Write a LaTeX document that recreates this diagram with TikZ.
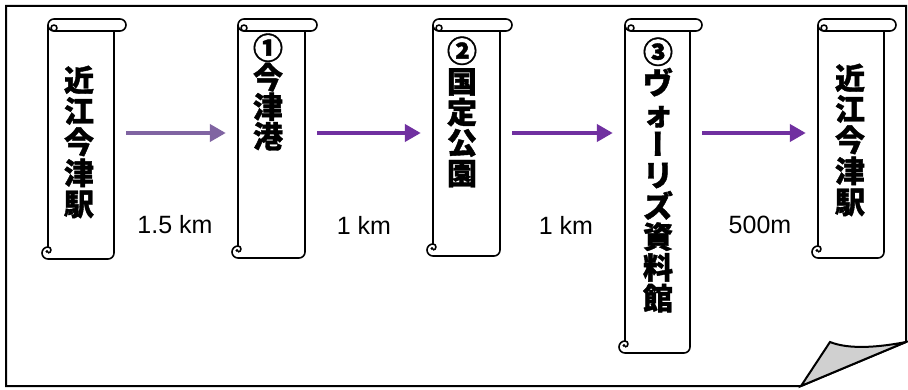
\documentclass[tikz,border=0pt]{standalone}
\usepackage{fontspec}
\setmainfont{Liberation Sans}
\newfontfamily\jp{Noto Sans CJK JP}[BoldFeatures={FakeBold=1.3}]
\newfontfamily\jpv{Noto Sans CJK JP}[RawFeature=+vert, BoldFeatures={FakeBold=1.3}]
\usetikzlibrary{arrows.meta}
\definecolor{purA}{HTML}{8064A2}
\definecolor{purB}{HTML}{7030A0}
\definecolor{foldgray}{HTML}{D0D0D0}
\newcommand{\jpfont}[1]{\jp\bfseries\fontsize{30}{#1}\selectfont}
\tikzset{
  scrollline/.style={draw=black, line width=1.6pt, line join=round},
  frameline/.style={draw=black, line width=2pt, line join=miter},
  jptext/.style={align=center, inner sep=0pt, text=black},
  arrA/.style={draw=purA, line width=4.5pt, -{Triangle[length=16pt,width=17pt]}, shorten >=12pt},
  arrB/.style={draw=purB, line width=4.5pt, -{Triangle[length=16pt,width=17pt]}, shorten >=12pt},
  dist/.style={font=\fontsize{25}{30}\selectfont, inner sep=0pt, text=black},
}
% name, L, T, R, B
\newcommand{\myscroll}[5]{%
  \fill[white] (#2,-#3-6) rectangle (#4,-#5);
  \draw[scrollline] (#2,-#3-6) -- (#2,-#5+12) arc[start angle=90,end angle=270,radius=6pt]
     -- (#4-6,-#5) arc[start angle=-90,end angle=0,radius=6pt] -- (#4,-#3-12);
  \draw[scrollline] (#2,-#5+12) arc[start angle=90,end angle=-90,radius=3pt];
  \fill[black] (#2-1,-#5+7.5) circle[radius=1.6pt];
  \filldraw[scrollline, fill=white] (#2+6,-#3) -- (#4+6,-#3) arc[start angle=90,end angle=-90,radius=6pt]
     -- (#2+6,-#3-12) arc[start angle=-90,end angle=-270,radius=6pt] -- cycle;
  \draw[scrollline] (#2+6,-#3-9) circle[radius=3pt];
  \node[inner sep=0pt, minimum width={#4+12-#2}, minimum height={#5-#3}] (#1) at ({(#2+#4+12)/2},{-(#3+#5)/2}) {};
}
\begin{document}
\begin{tikzpicture}[x=1pt,y=1pt]
  \useasboundingbox (0,0) rectangle (908,-390);
  % page frame with folded corner
  \filldraw[frameline, fill=white] (6,-6) -- (906,-6) -- (906,-342) -- (801,-386) -- (6,-386) -- cycle;
  \filldraw[frameline, fill=foldgray] (801,-386) -- (830,-342)
     .. controls (850,-350) and (880,-347) .. (906,-342) -- cycle;
  % scrolls
  \myscroll{s1}{48}{19}{114}{259}
  \myscroll{s2}{238}{19}{305}{258}
  \myscroll{s3}{433}{19}{500}{256}
  \myscroll{s4}{625}{19}{690}{353}
  \myscroll{s5}{818}{19}{884}{258}
  % texts
  \node[jptext, font={\jpfont{31}}] (t1) at (79,-142) {近\\江\\今\\津\\駅};
  \node[jptext, font={\jpfont{29.5}}] (t2) at (268,-92) {①\\今\\津\\港};
  \node[jptext, font={\jpfont{30.6}}] (t3) at (462,-112) {②\\国\\定\\公\\園};
  \node[jptext, font={\jpfont{30.8}}] (t4) at (658,-175) {③\\ヴ\\ォ\\{\jpv\bfseries ー}\\リ\\ズ\\資\\料\\館};
  \node[jptext, font={\jpfont{31}}] (t5) at (850,-140) {近\\江\\今\\津\\駅};
  % arrows
  \coordinate (ay) at (0,-133);
  \draw[arrA] (s1.east |- ay) -- (s2.west |- ay);
  \draw[arrB] (s2.east |- ay) -- (s3.west |- ay);
  \draw[arrB] (s3.east |- ay) -- (s4.west |- ay);
  \draw[arrB] (s4.east |- ay) -- (s5.west |- ay);
  % distances
  \node[dist] (d1) at (175,-225) {1.5 km};
  \node[dist] (d2) at (364,-225) {1 km};
  \node[dist] (d3) at (566,-225) {1 km};
  \node[dist] (d4) at (760,-225) {500m};
\end{tikzpicture}
\end{document}
